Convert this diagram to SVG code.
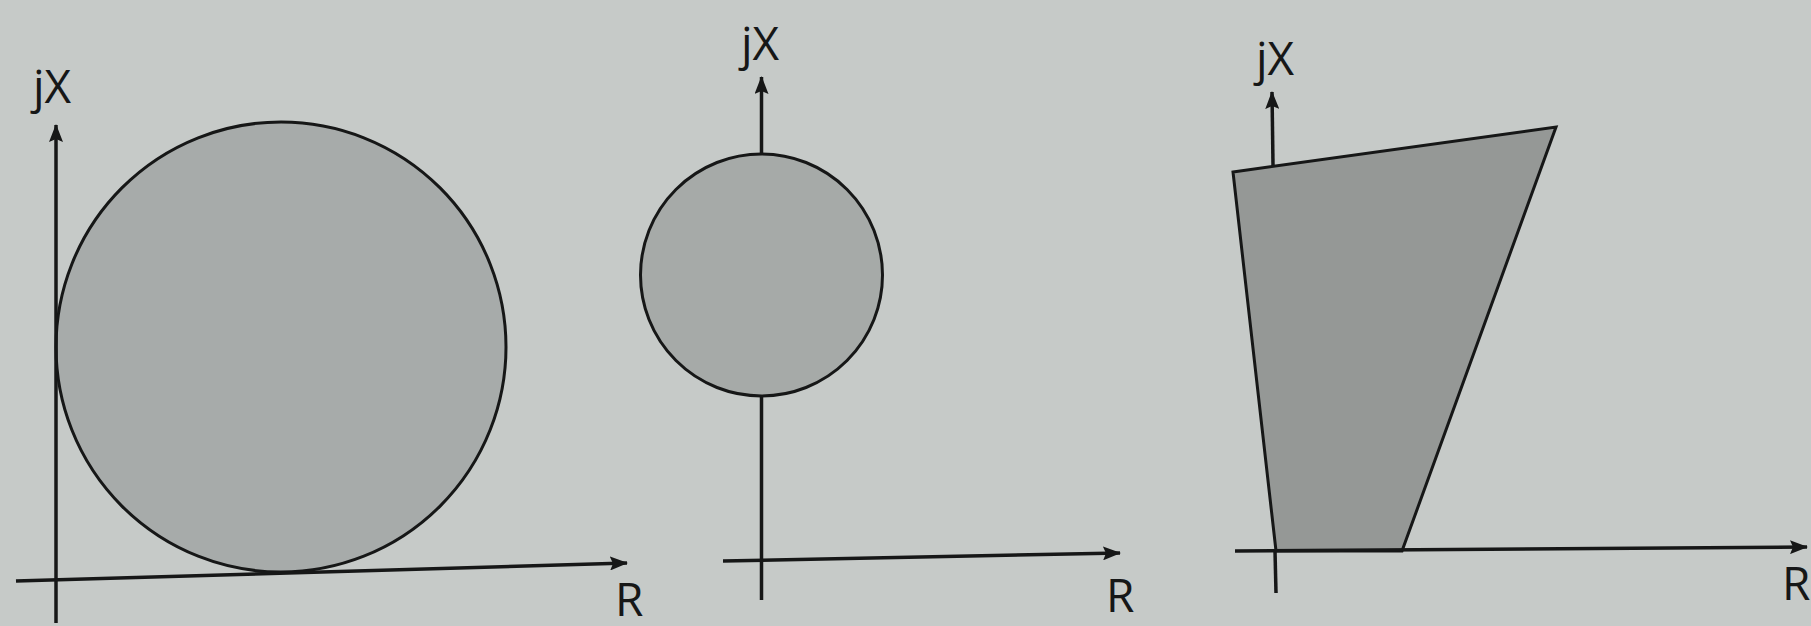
<svg xmlns="http://www.w3.org/2000/svg" width="1811" height="626" viewBox="0 0 1811 626">
  <style>
    .axis { stroke: #161717; stroke-width: 3.5; fill: none; }
    .shape { stroke: #161717; stroke-width: 3; }
    .lbl { font-family: "Open Sans", "Liberation Sans", sans-serif; font-size: 46px; fill: #161717; }
  </style>
  <defs>
    <marker id="arr" viewBox="0 0 18 14" refX="17" refY="7" markerWidth="18" markerHeight="14" markerUnits="userSpaceOnUse" orient="auto">
      <path d="M0,0 L18,7 L0,14 L3,7 Z" fill="#161717"/>
    </marker>
  </defs>
  <rect width="1811" height="626" fill="#c6cac8"/>

  <g id="diagram1">
    <circle cx="281" cy="347" r="225" fill="#a7abaa" class="shape"/>
    <text class="lbl" x="33" y="103">jX</text>
    <text class="lbl" x="615" y="616">R</text>
  </g>

  <g id="diagram2">
    <circle cx="761.5" cy="275" r="121" fill="#a6aaa8" class="shape"/>
    <text class="lbl" x="741" y="60">jX</text>
    <text class="lbl" x="1106" y="612">R</text>
  </g>

  <g id="diagram3">
    <polygon points="1233,172 1556,127 1402,551 1276,551" fill="#959896" class="shape"/>
    <text class="lbl" x="1256" y="75">jX</text>
    <text class="lbl" x="1782" y="600">R</text>
  </g>

  <g id="connectors">
    <line class="axis" x1="56" y1="623" x2="56" y2="125" marker-end="url(#arr)"/>
    <line class="axis" x1="16" y1="581" x2="627" y2="563" marker-end="url(#arr)"/>
    <line class="axis" x1="761.5" y1="154" x2="761.5" y2="77" marker-end="url(#arr)"/>
    <line class="axis" x1="761.5" y1="396" x2="761.5" y2="600"/>
    <line class="axis" x1="723" y1="561" x2="1120" y2="553" marker-end="url(#arr)"/>
    <line class="axis" x1="1273" y1="165" x2="1272" y2="92" marker-end="url(#arr)"/>
    <line class="axis" x1="1275" y1="551" x2="1276" y2="593"/>
    <line class="axis" x1="1235" y1="551" x2="1807" y2="547" marker-end="url(#arr)"/>
  </g>
</svg>
